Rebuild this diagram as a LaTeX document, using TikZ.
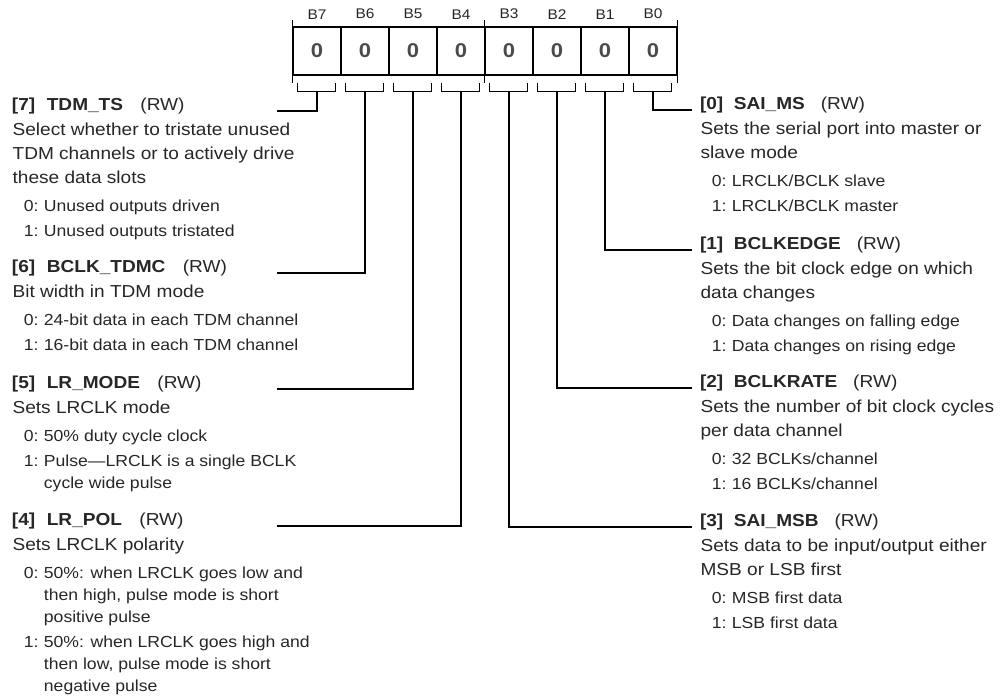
\documentclass[tikz,border=0pt]{standalone}
\usepackage{fontspec}
\setmainfont{Liberation Sans}[FakeStretch=1.1]
\usetikzlibrary{positioning}

\newcommand{\valfont}{\fontsize{12}{16.5}\selectfont}
\newcommand{\fld}[2]{\textbf{[#1]\ \ #2}\ \ \ (RW)}
\newcommand{\bitval}[2]{\hspace*{8.5pt}{\valfont\makebox[15pt][l]{#1:}#2}}
\newcommand{\bitcont}[1]{\hspace*{23.5pt}{\valfont #1}}

\tikzset{
  cell/.style={draw, minimum size=36pt, inner sep=0pt,
    font=\fontsize{15}{18}\selectfont\bfseries, text=black!70},
  bitlbl/.style={inner sep=0pt, font=\fontsize{10.5}{12}\selectfont},
  ltitle/.style={anchor=base west, inner sep=0pt, outer xsep=6pt,
    text width=192.75pt, align=left},
  rtitle/.style={anchor=base west, inner sep=0pt, outer xsep=6pt},
  desc/.style={anchor=north west, inner sep=0pt, align=left},
}

\begin{document}
\begin{tikzpicture}[x=0.75pt,y=-0.75pt,line width=0.9pt,
    every node/.append style={text=black!85,font=\fontsize{13}{16.5}\selectfont}]
    \useasboundingbox (0,0) rectangle (1000,698);
    % register cells and bit brackets
    \foreach \i/\x in {7/317,6/365,5/413,4/461,3/509,2/557,1/605,0/653} {
      \node[cell] (b\i) at (\x,51) {0};
      \node[bitlbl, above=5pt of b\i] (l\i) {B\i};
      \draw ([shift={(5,7)}]b\i.south west) -- ++(0,9) -- ++(38,0) -- ++(0,-9);
      \coordinate (c\i) at (\x,91);
    }
    % nibble ticks
    \draw (b7.north west) -- ++(0,-6);
    \draw (b3.north west) -- ++(0,-6);
    \draw (b0.north east) -- ++(0,-6);
    \draw (b7.south west) -- ++(0,7);
    \draw (b3.south west) -- ++(0,7);
    \draw (b0.south east) -- ++(0,7);
    % left fields
    \node[ltitle] (t7) at (4,111) {\fld{7}{TDM\_TS}};
    \node[desc] (d7) at ([yshift=-6.45pt]t7.text) {\strut Select whether to tristate unused\\[1.5pt]
      TDM channels or to actively drive\\[1.5pt]
      these data slots\\[4.1pt]
      \bitval{0}{Unused outputs driven}\\[2.6pt]
      \bitval{1}{Unused outputs tristated}};
    \node[ltitle] (t6) at (4,273) {\fld{6}{BCLK\_TDMC}};
    \node[desc] (d6) at ([yshift=-6.45pt]t6.text) {\strut Bit width in TDM mode\\[4.1pt]
      \bitval{0}{24-bit data in each TDM channel}\\[2.6pt]
      \bitval{1}{16-bit data in each TDM channel}};
    \node[ltitle] (t5) at (4,389) {\fld{5}{LR\_MODE}};
    \node[desc] (d5) at ([yshift=-6.45pt]t5.text) {\strut Sets LRCLK mode\\[4.1pt]
      \bitval{0}{50\% duty cycle clock}\\[2.6pt]
      \bitval{1}{Pulse—LRCLK is a single BCLK}\\
      \bitcont{cycle wide pulse}};
    \node[ltitle] (t4) at (4,526) {\fld{4}{LR\_POL}};
    \node[desc] (d4) at ([yshift=-6.45pt]t4.text) {\strut Sets LRCLK polarity\\[4.1pt]
      \bitval{0}{50\%: when LRCLK goes low and}\\
      \bitcont{then high, pulse mode is short}\\
      \bitcont{positive pulse}\\[2.6pt]
      \bitval{1}{50\%: when LRCLK goes high and}\\
      \bitcont{then low, pulse mode is short}\\
      \bitcont{negative pulse}};
    % right fields
    \node[rtitle] (t0) at (692,110) {\fld{0}{SAI\_MS}};
    \node[desc] (d0) at ([yshift=-6.45pt]t0.text) {\strut Sets the serial port into master or\\[1.5pt]
      slave mode\\[4.1pt]
      \bitval{0}{LRCLK/BCLK slave}\\[2.6pt]
      \bitval{1}{LRCLK/BCLK master}};
    \node[rtitle] (t1) at (692,250) {\fld{1}{BCLKEDGE}};
    \node[desc] (d1) at ([yshift=-6.45pt]t1.text) {\strut Sets the bit clock edge on which\\[1.5pt]
      data changes\\[4.1pt]
      \bitval{0}{Data changes on falling edge}\\[2.6pt]
      \bitval{1}{Data changes on rising edge}};
    \node[rtitle] (t2) at (692,388) {\fld{2}{BCLKRATE}};
    \node[desc] (d2) at ([yshift=-6.45pt]t2.text) {\strut Sets the number of bit clock cycles\\[1.5pt]
      per data channel\\[4.1pt]
      \bitval{0}{32 BCLKs/channel}\\[2.6pt]
      \bitval{1}{16 BCLKs/channel}};
    \node[rtitle] (t3) at (692,527) {\fld{3}{SAI\_MSB}};
    \node[desc] (d3) at ([yshift=-6.45pt]t3.text) {\strut Sets data to be input/output either\\[1.5pt]
      MSB or LSB first\\[4.1pt]
      \bitval{0}{MSB first data}\\[2.6pt]
      \bitval{1}{LSB first data}};
    % connectors
    \draw (c7) |- (t7.base east);
    \draw (c6) |- (t6.base east);
    \draw (c5) |- (t5.base east);
    \draw (c4) |- (t4.base east);
    \draw (c3) |- (t3.base west);
    \draw (c2) |- (t2.base west);
    \draw (c1) |- (t1.base west);
    \draw (c0) |- (t0.base west);
\end{tikzpicture}
\end{document}
